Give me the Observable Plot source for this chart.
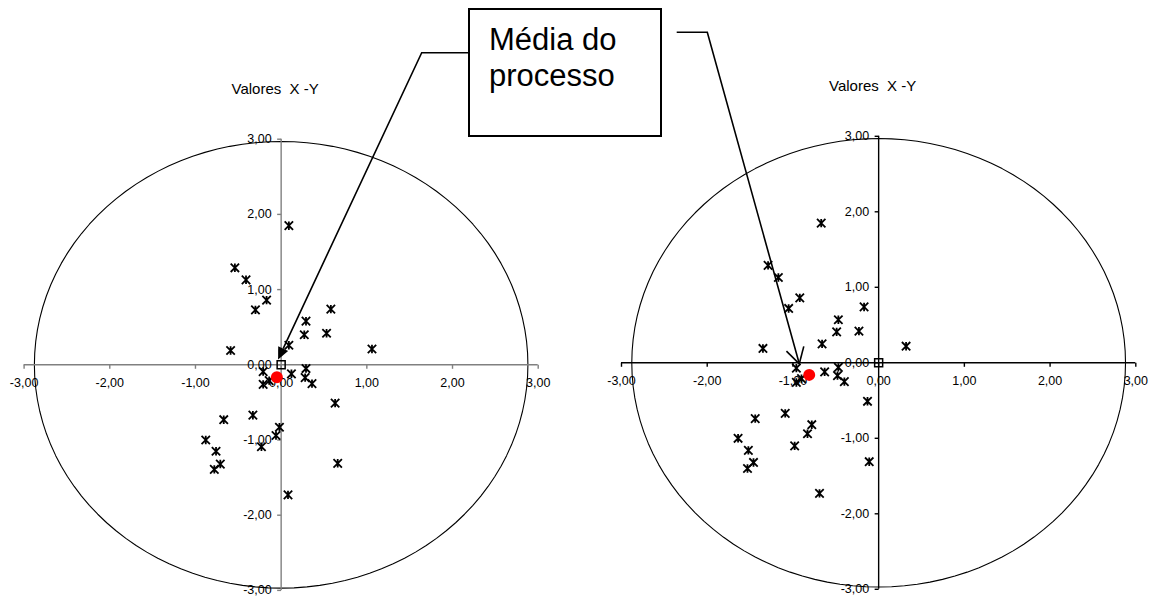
<!DOCTYPE html>
<html><head><meta charset="utf-8">
<script src="https://cdn.jsdelivr.net/npm/d3@7"></script>
<script src="https://cdn.jsdelivr.net/npm/@observablehq/plot@0.6"></script>
<style>
html,body{margin:0;padding:0;background:#fff;}
#wrap{position:relative;width:1153px;height:599px;overflow:hidden;font-family:"Liberation Sans",Arial,sans-serif;}
#wrap svg{position:absolute;top:0;}
</style></head><body><div id="wrap"></div>
<script>
// ---- data ----
const tickValues = [-3, -2, -1, 0, 1, 2, 3];
const chartTitle = "Valores\u00a0 X -Y";
const leftX  = [0.09,-0.54,-0.41,-0.17,-0.30,0.58,0.29,0.27,0.53,1.06,-0.59,0.09,-0.21,-0.14,-0.21,0.12,0.29,0.28,0.36,0.63,-0.33,-0.67,-0.02,-0.06,-0.88,-0.23,-0.76,-0.71,-0.78,0.66,0.08];
const leftY  = [1.85,1.29,1.13,0.86,0.73,0.74,0.58,0.40,0.42,0.21,0.19,0.26,-0.09,-0.21,-0.26,-0.12,-0.05,-0.17,-0.25,-0.51,-0.67,-0.73,-0.83,-0.94,-1.00,-1.09,-1.15,-1.32,-1.39,-1.31,-1.73];
const rightX = [-0.67,-1.29,-1.17,-0.92,-1.05,-0.17,-0.47,-0.49,-0.23,0.32,-1.35,-0.66,-0.96,-0.90,-0.96,-0.63,-0.47,-0.48,-0.40,-0.13,-1.09,-1.44,-0.78,-0.83,-1.64,-0.98,-1.52,-1.46,-1.53,-0.11,-0.69];
const rightY = [1.85,1.29,1.13,0.86,0.72,0.74,0.57,0.41,0.42,0.22,0.19,0.25,-0.07,-0.21,-0.26,-0.12,-0.06,-0.17,-0.25,-0.51,-0.67,-0.74,-0.82,-0.94,-1.00,-1.10,-1.16,-1.32,-1.40,-1.31,-1.73];
const meanLeft = [-0.05, -0.165];
const meanRight = [-0.81, -0.16];
const originPoint = [0, 0];
const ellipseRadii = [2.88, 2.97];
const arrowTargets = [[-0.03, 0.065], [-0.92, -0.02]];
const boxLines = ["Média do", "processo"];

// ---- helpers ----
const fmt = d => d.toFixed(2).replace(".", ",");
const FONT = "Liberation Sans, Arial, sans-serif";
const starSymbol = {draw(ctx, size) {
  const r = Math.sqrt(size / Math.PI);
  ctx.moveTo(-r, -r); ctx.lineTo(r, r);
  ctx.moveTo(-r, r); ctx.lineTo(r, -r);
  ctx.moveTo(0, -r); ctx.lineTo(0, r);
}};
const squareSymbol = {draw(ctx) { ctx.rect(-4, -4, 8, 8); }};
const tickDown = {draw(ctx) { ctx.moveTo(0, 0); ctx.lineTo(0, 4); }};
const tickLeft = {draw(ctx) { ctx.moveTo(0, 0); ctx.lineTo(-4, 0); }};

function panel(xs, ys, mean, axisColor, m) {
  const pts = xs.map((x, i) => ({x, y: ys[i]}));
  const ell = d3.range(0, 361, 3).map(a => ({
    x: ellipseRadii[0] * Math.cos(a * Math.PI / 180),
    y: ellipseRadii[1] * Math.sin(a * Math.PI / 180)
  }));
  return Plot.plot({
    width: m.width, height: 599,
    marginLeft: m.left, marginRight: m.right, marginTop: m.top, marginBottom: m.bottom,
    x: {domain: [-3, 3], axis: null},
    y: {domain: [-3, 3], axis: null},
    style: {fontFamily: FONT, fontSize: "12px", background: "transparent", overflow: "visible", color: "black"},
    marks: [
      Plot.line(ell, {x: "x", y: "y", stroke: "black", strokeWidth: 1.1}),
      Plot.ruleY([0], {x1: -3, x2: 3, stroke: axisColor, strokeWidth: 1.4}),
      Plot.ruleX([0], {y1: -3, y2: 3, stroke: axisColor, strokeWidth: 1.4}),
      Plot.dot(tickValues, {x: d => d, y: 0, symbol: tickDown, stroke: axisColor, fill: "none", strokeWidth: 1.4}),
      Plot.dot(tickValues, {x: 0, y: d => d, symbol: tickLeft, stroke: axisColor, fill: "none", strokeWidth: 1.4}),
      Plot.text(tickValues, {x: d => d, y: 0, dy: 18, text: fmt, fontSize: 12.5, fill: "black"}),
      Plot.text(tickValues, {x: 0, y: d => d, dx: -9.5, textAnchor: "end", text: fmt, fontSize: 12.5, fill: "black"}),
      Plot.text([chartTitle], {x: 0, y: 3, dx: -6, dy: -50, text: d => d, fontSize: 15, fill: "black"}),
      Plot.dot(pts, {x: "x", y: "y", symbol: starSymbol, r: 4.2, stroke: "black", strokeWidth: 1.8, fill: "none"}),
      Plot.dot([originPoint], {x: d => d[0], y: d => d[1], symbol: squareSymbol, stroke: "black", strokeWidth: 1.5, fill: "none"}),
      Plot.dot([mean], {x: d => d[0], y: d => d[1], r: 6, fill: "#ff0000", stroke: "none"})
    ]
  });
}

const wrap = document.getElementById("wrap");
const leftOffset = 0, rightOffset = 600;
const leftPlot = panel(leftX, leftY, meanLeft, "#808080", {width: 560, left: 23.6, right: 22.3, top: 138.7, bottom: 9.1});
const rightPlot = panel(rightX, rightY, meanRight, "#000000", {width: 553, left: 21, right: 17.7, top: 135.8, bottom: 10.2});
leftPlot.style.left = leftOffset + "px";
rightPlot.style.left = rightOffset + "px";
wrap.appendChild(leftPlot);
wrap.appendChild(rightPlot);

// ---- annotation overlay ----
const tipL = [leftPlot.scale("x").apply(arrowTargets[0][0]) + leftOffset, leftPlot.scale("y").apply(arrowTargets[0][1])];
const tipR = [rightPlot.scale("x").apply(arrowTargets[1][0]) + rightOffset, rightPlot.scale("y").apply(arrowTargets[1][1])];

const ov = d3.select(wrap).append("svg")
  .attr("width", 1153).attr("height", 599)
  .style("left", "0px").style("pointer-events", "none");

const box = {x: 469, y: 9, w: 192, h: 127};
ov.append("rect").attr("x", box.x).attr("y", box.y).attr("width", box.w).attr("height", box.h)
  .attr("fill", "white").attr("stroke", "black").attr("stroke-width", 2);
ov.append("text").attr("x", 489).attr("y", 50).attr("font-family", FONT).attr("font-size", 31).text(boxLines[0]);
ov.append("text").attr("x", 489).attr("y", 86).attr("font-family", FONT).attr("font-size", 31).text(boxLines[1]);

// left connector with filled arrowhead
const bendL = [421.7, 52.7];
{
  const dx = tipL[0] - bendL[0], dy = tipL[1] - bendL[1];
  const L = Math.hypot(dx, dy), ux = dx / L, uy = dy / L;
  const hl = 12, hw = 5.5;
  const base = [tipL[0] - ux * hl, tipL[1] - uy * hl];
  ov.append("polyline")
    .attr("points", [[box.x, bendL[1]], bendL, base].map(p => p.join(",")).join(" "))
    .attr("fill", "none").attr("stroke", "black").attr("stroke-width", 1.6);
  ov.append("polygon")
    .attr("points", [tipL, [base[0] - uy * hw, base[1] + ux * hw], [base[0] + uy * hw, base[1] - ux * hw]].map(p => p.join(",")).join(" "))
    .attr("fill", "black");
}
// right connector with open arrowhead
const startR = [676.7, 32.3], bendR = [707.3, 32.3];
{
  ov.append("polyline")
    .attr("points", [startR, bendR, tipR].map(p => p.join(",")).join(" "))
    .attr("fill", "none").attr("stroke", "black").attr("stroke-width", 1.6);
  const dx = bendR[0] - tipR[0], dy = bendR[1] - tipR[1];
  const ang = Math.atan2(dy, dx), a = 30 * Math.PI / 180, len = 18;
  [ang - a, ang + a].forEach(t => {
    ov.append("line").attr("x1", tipR[0]).attr("y1", tipR[1])
      .attr("x2", tipR[0] + len * Math.cos(t)).attr("y2", tipR[1] + len * Math.sin(t))
      .attr("stroke", "black").attr("stroke-width", 1.6);
  });
}
</script></body></html>
